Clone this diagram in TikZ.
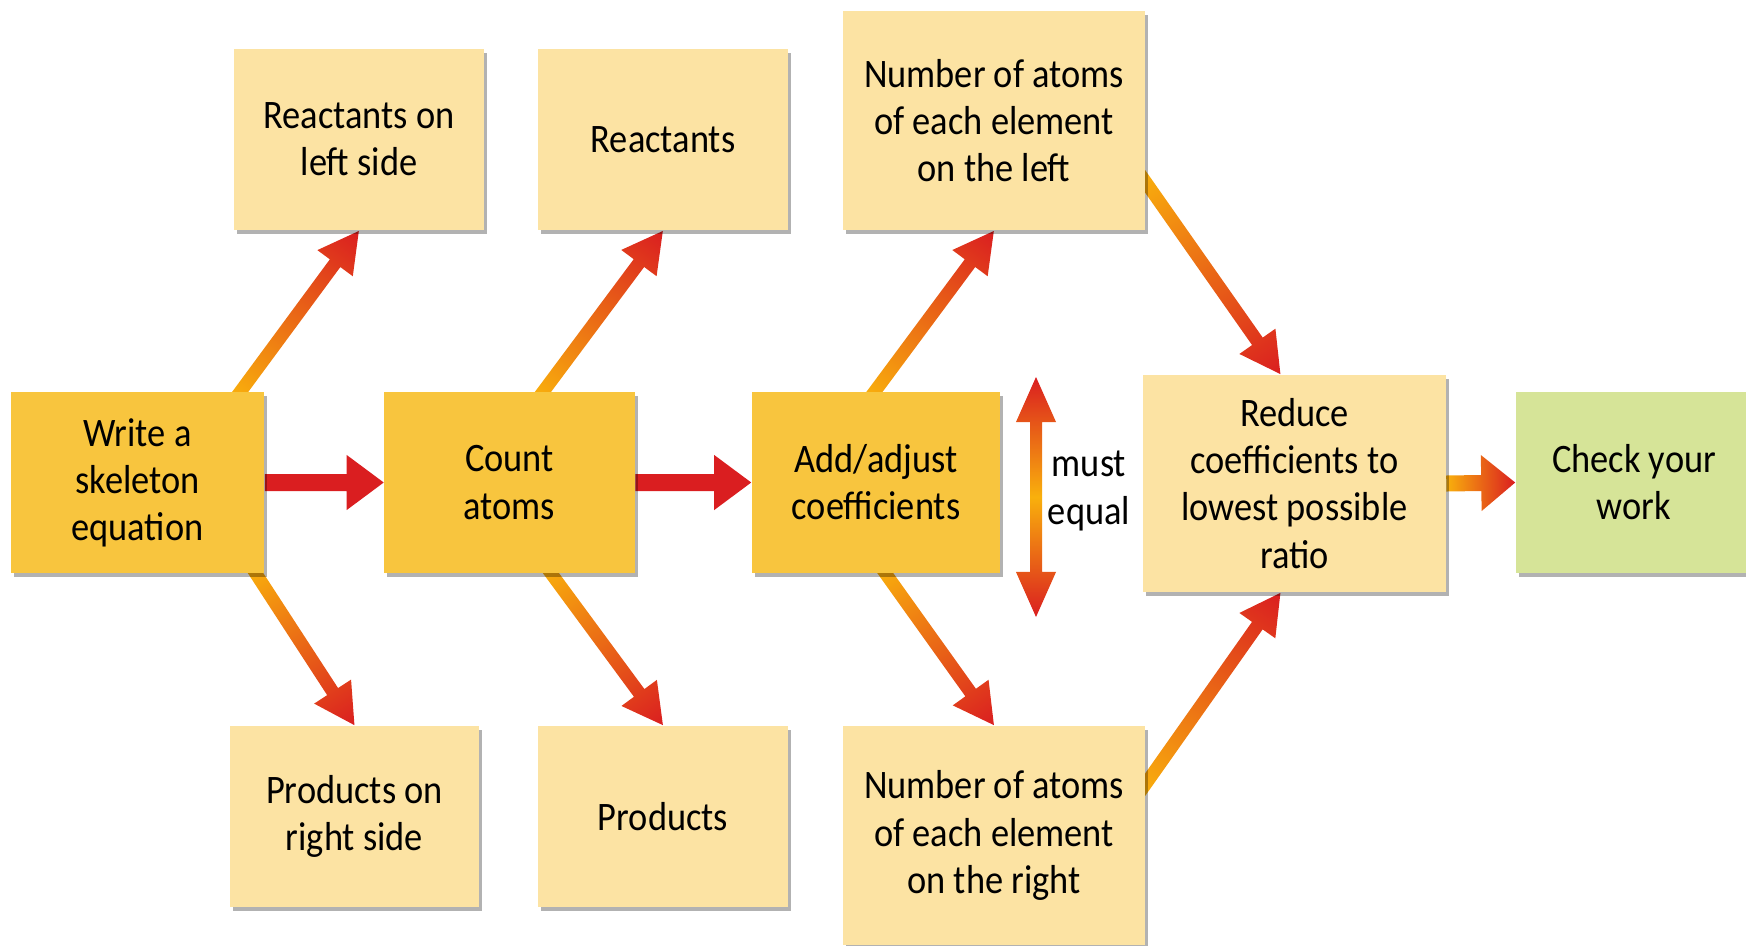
\documentclass[tikz,border=0pt]{standalone}
\usepackage{fontspec}
\setmainfont{Carlito}[FakeStretch=0.9]
\usetikzlibrary{calc,shadows,backgrounds}

\definecolor{boxdark}{RGB}{248,197,62}
\definecolor{boxlight}{RGB}{252,227,163}
\definecolor{boxgreen}{RGB}{214,228,152}
\definecolor{arrred}{RGB}{218,30,32}
\definecolor{arrorange}{RGB}{249,176,12}

% fat arrow: from, to, shaft half width, head half width, head length, fill
\newcommand\fatarrow[6]{%
  \path (#1) coordinate (fa-s) (#2) coordinate (fa-e);
  \pgfpointdiff{\pgfpointanchor{fa-s}{center}}{\pgfpointanchor{fa-e}{center}}%
  \pgfgetlastxy{\fadx}{\fady}%
  \pgfmathsetmacro\faang{atan2(\fady,\fadx)}%
  \pgfmathsetmacro\falen{veclen(\fadx,\fady)}%
  \begin{scope}[transform canvas={shift={(fa-s)},rotate=\faang}]
    \path[#6] (0pt,-#3) -- ({\falen pt-#5},-#3) -- ({\falen pt-#5},-#4)
      -- (\falen pt,0pt) -- ({\falen pt-#5},#4) -- ({\falen pt-#5},#3)
      -- (0pt,#3) -- cycle;
  \end{scope}}

\begin{document}
\begin{tikzpicture}[x=0.01cm,y=-0.01cm,
  stepbox/.style={rectangle,align=center,inner sep=0pt,
    font=\fontsize{11.5}{13.4}\selectfont,
    drop shadow={shadow xshift=0.03cm,shadow yshift=-0.04cm,fill=black,opacity=0.3}},
  darkbox/.style={stepbox,fill=boxdark,minimum width=2.5cm,minimum height=1.81cm},
  lightbox/.style={stepbox,fill=boxlight,minimum width=2.5cm,minimum height=1.81cm},
  bigbox/.style={stepbox,fill=boxlight,minimum width=3.02cm,minimum height=2.19cm},
  diag/.style={left color=arrorange,right color=arrred},
  main/.style={fill=arrred}]
  \useasboundingbox (0,0) rectangle (1746,945);

  % main row
  \node[darkbox,minimum width=2.53cm] (write) at (137.5,482.5) {Write a\\skeleton\\equation};
  \node[darkbox] (count) at (509.5,482.5) {Count\\atoms};
  \node[darkbox,minimum width=2.48cm] (adjust) at (876,482.5) {Add/adjust\\coefficients};
  \node[bigbox,minimum height=2.17cm] (reduce) at (1294.5,483.5) {Reduce\\coefficients to\\lowest possible\\ratio};
  \node[stepbox,fill=boxgreen,minimum width=2.36cm,minimum height=1.81cm] (check) at (1634,482.5) {Check your\\work};

  % top row
  \node[lightbox] (rleft) at (359,139.5) {Reactants on\\left side};
  \node[lightbox] (react) at (663,139.5) {Reactants};
  \node[bigbox] (numl) at (994,120.5) {Number of atoms\\of each element\\on the left};

  % bottom row
  \node[lightbox,minimum width=2.49cm] (pright) at (354.5,816.5) {Products on\\right side};
  \node[lightbox] (prod) at (663,816.5) {Products};
  \node[bigbox] (numr) at (994,835.5) {Number of atoms\\of each element\\on the right};

  \node[align=center,font=\fontsize{11.5}{13.4}\selectfont] (equal) at (1089,491) {must\\equal};
  \coordinate (eqmid) at (1036,497);
  \coordinate (eqtop) at (1036,377);
  \coordinate (eqbot) at (1036,617);

  \begin{pgfonlayer}{background}
    % horizontal steps
    \fatarrow{write.east}{count.west}{0.085cm}{0.275cm}{0.37cm}{main}
    \fatarrow{count.east}{adjust.west}{0.085cm}{0.275cm}{0.37cm}{main}
    \fatarrow{reduce.east}{check.west}{0.08cm}{0.28cm}{0.34cm}{diag}
    % branches
    \fatarrow{$(write.north east)+(-30,8)$}{rleft.south}{0.065cm}{0.22cm}{0.4cm}{diag}
    \fatarrow{$(write.south east)+(-14,-8)$}{pright.north}{0.065cm}{0.22cm}{0.4cm}{diag}
    \fatarrow{$(count.north)+(28,8)$}{react.south}{0.065cm}{0.22cm}{0.4cm}{diag}
    \fatarrow{$(count.south)+(36,-8)$}{prod.north}{0.065cm}{0.22cm}{0.4cm}{diag}
    \fatarrow{$(adjust.north)+(-7,8)$}{numl.south}{0.065cm}{0.22cm}{0.4cm}{diag}
    \fatarrow{$(adjust.south)+(4,-8)$}{numr.north}{0.065cm}{0.22cm}{0.4cm}{diag}
    \fatarrow{$(numl.south east)+(-6,-57)$}{$(reduce.north)+(-14,0)$}{0.065cm}{0.22cm}{0.4cm}{diag}
    \fatarrow{$(numr.north east)+(-6,67)$}{$(reduce.south)+(-14,0)$}{0.065cm}{0.22cm}{0.4cm}{diag}
    % must equal
    \fatarrow{eqmid}{eqtop}{0.06cm}{0.2cm}{0.45cm}{diag}
    \fatarrow{eqmid}{eqbot}{0.06cm}{0.2cm}{0.45cm}{diag}
  \end{pgfonlayer}
\end{tikzpicture}
\end{document}
